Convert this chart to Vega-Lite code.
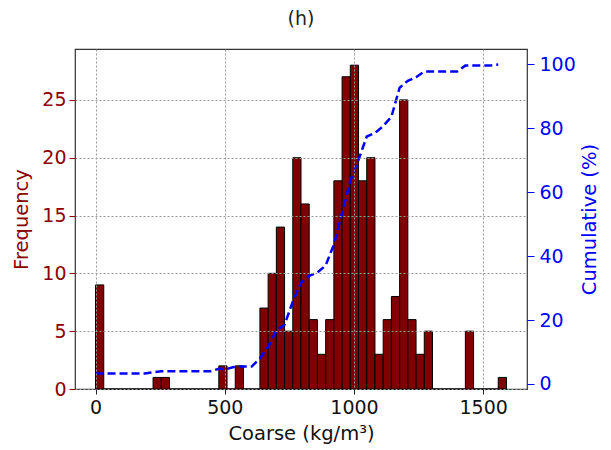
{
  "$schema": "https://vega.github.io/schema/vega-lite/v6.json",
  "width": 452,
  "height": 340,
  "autosize": {"type": "none"},
  "padding": {"left": 75, "top": 49, "right": 84, "bottom": 61},
  "background": "white",
  "config": {"font": "DejaVu Sans", "view": {"stroke": "#333", "strokeWidth": 1.2}},
  "title": {"text": "(h)", "fontSize": 19, "fontWeight": "normal", "color": "#222", "offset": 20, "anchor": "middle", "font": "DejaVu Sans"},
  "data": {"values": [
    {"bin_start": 0, "bin_end": 31.8, "count": 9, "cum": 3.27},
    {"bin_start": 31.8, "bin_end": 63.6, "count": 0, "cum": 3.27},
    {"bin_start": 63.6, "bin_end": 95.4, "count": 0, "cum": 3.27},
    {"bin_start": 95.4, "bin_end": 127.2, "count": 0, "cum": 3.27},
    {"bin_start": 127.2, "bin_end": 159, "count": 0, "cum": 3.27},
    {"bin_start": 159, "bin_end": 190.8, "count": 0, "cum": 3.27},
    {"bin_start": 190.8, "bin_end": 222.6, "count": 0, "cum": 3.27},
    {"bin_start": 222.6, "bin_end": 254.4, "count": 1, "cum": 3.64},
    {"bin_start": 254.4, "bin_end": 286.2, "count": 1, "cum": 4.0},
    {"bin_start": 286.2, "bin_end": 318, "count": 0, "cum": 4.0},
    {"bin_start": 318, "bin_end": 349.8, "count": 0, "cum": 4.0},
    {"bin_start": 349.8, "bin_end": 381.6, "count": 0, "cum": 4.0},
    {"bin_start": 381.6, "bin_end": 413.4, "count": 0, "cum": 4.0},
    {"bin_start": 413.4, "bin_end": 445.2, "count": 0, "cum": 4.0},
    {"bin_start": 445.2, "bin_end": 477, "count": 0, "cum": 4.0},
    {"bin_start": 477, "bin_end": 508.8, "count": 2, "cum": 4.73},
    {"bin_start": 508.8, "bin_end": 540.6, "count": 0, "cum": 4.73},
    {"bin_start": 540.6, "bin_end": 572.4, "count": 2, "cum": 5.45},
    {"bin_start": 572.4, "bin_end": 604.2, "count": 0, "cum": 5.45},
    {"bin_start": 604.2, "bin_end": 636, "count": 0, "cum": 5.45},
    {"bin_start": 636, "bin_end": 667.8, "count": 7, "cum": 8.0},
    {"bin_start": 667.8, "bin_end": 699.6, "count": 10, "cum": 11.64},
    {"bin_start": 699.6, "bin_end": 731.4, "count": 14, "cum": 16.73},
    {"bin_start": 731.4, "bin_end": 763.2, "count": 5, "cum": 18.55},
    {"bin_start": 763.2, "bin_end": 795, "count": 20, "cum": 25.82},
    {"bin_start": 795, "bin_end": 826.8, "count": 16, "cum": 31.64},
    {"bin_start": 826.8, "bin_end": 858.6, "count": 6, "cum": 33.82},
    {"bin_start": 858.6, "bin_end": 890.4, "count": 3, "cum": 34.91},
    {"bin_start": 890.4, "bin_end": 922.2, "count": 6, "cum": 37.09},
    {"bin_start": 922.2, "bin_end": 954, "count": 18, "cum": 43.64},
    {"bin_start": 954, "bin_end": 985.8, "count": 27, "cum": 53.45},
    {"bin_start": 985.8, "bin_end": 1017.6, "count": 28, "cum": 63.64},
    {"bin_start": 1017.6, "bin_end": 1049.4, "count": 18, "cum": 70.18},
    {"bin_start": 1049.4, "bin_end": 1081.2, "count": 20, "cum": 77.45},
    {"bin_start": 1081.2, "bin_end": 1113, "count": 3, "cum": 78.55},
    {"bin_start": 1113, "bin_end": 1144.8, "count": 6, "cum": 80.73},
    {"bin_start": 1144.8, "bin_end": 1176.6, "count": 8, "cum": 83.64},
    {"bin_start": 1176.6, "bin_end": 1208.4, "count": 25, "cum": 92.73},
    {"bin_start": 1208.4, "bin_end": 1240.2, "count": 6, "cum": 94.91},
    {"bin_start": 1240.2, "bin_end": 1272, "count": 3, "cum": 96.0},
    {"bin_start": 1272, "bin_end": 1303.8, "count": 5, "cum": 97.82},
    {"bin_start": 1303.8, "bin_end": 1335.6, "count": 0, "cum": 97.82},
    {"bin_start": 1335.6, "bin_end": 1367.4, "count": 0, "cum": 97.82},
    {"bin_start": 1367.4, "bin_end": 1399.2, "count": 0, "cum": 97.82},
    {"bin_start": 1399.2, "bin_end": 1431, "count": 0, "cum": 97.82},
    {"bin_start": 1431, "bin_end": 1462.8, "count": 5, "cum": 99.64},
    {"bin_start": 1462.8, "bin_end": 1494.6, "count": 0, "cum": 99.64},
    {"bin_start": 1494.6, "bin_end": 1526.4, "count": 0, "cum": 99.64},
    {"bin_start": 1526.4, "bin_end": 1558.2, "count": 0, "cum": 99.64},
    {"bin_start": 1558.2, "bin_end": 1590, "count": 1, "cum": 100.0}
  ]},
  "layer": [
    {
      "mark": {"type": "bar", "color": "#800000", "stroke": "black", "strokeWidth": 1},
      "encoding": {
        "x": {
          "field": "bin_start", "type": "quantitative",
          "scale": {"domain": [-79.5, 1669.5], "nice": false, "zero": false},
          "axis": {
            "values": [0, 500, 1000, 1500], "format": "d", "title": "Coarse (kg/m³)",
            "domain": false, "grid": true, "gridDash": [2, 2], "gridColor": "#999", "gridWidth": 1,
            "tickColor": "#222", "tickSize": 5, "labelPadding": 4,
            "labelFontSize": 19, "labelColor": "#111", "labelFont": "DejaVu Sans",
            "titleFontSize": 19.5, "titleFontWeight": "normal", "titleColor": "#111", "titleFont": "DejaVu Sans", "titlePadding": 7,
            "zindex": 1
          }
        },
        "x2": {"field": "bin_end"},
        "y": {
          "field": "count", "type": "quantitative",
          "scale": {"domain": [0, 29.4], "nice": false},
          "axis": {
            "values": [0, 5, 10, 15, 20, 25], "title": "Frequency",
            "domain": false, "grid": true, "gridDash": [2, 2], "gridColor": "#999", "gridWidth": 1,
            "tickColor": "#8B0000", "tickSize": 6, "labelPadding": 3,
            "labelFontSize": 19, "labelColor": "#8B0000", "labelFont": "DejaVu Sans",
            "titleFontSize": 19.5, "titleFontWeight": "normal", "titleColor": "#8B0000", "titleFont": "DejaVu Sans", "titlePadding": 10,
            "zindex": 1
          }
        },
        "y2": {"datum": 0}
      }
    },
    {
      "mark": {"type": "line", "color": "#0000FF", "strokeDash": [8, 4], "strokeWidth": 2.5},
      "encoding": {
        "x": {"field": "bin_start", "type": "quantitative"},
        "y": {
          "field": "cum", "type": "quantitative",
          "scale": {"domain": [-1.57, 104.84], "nice": false, "zero": false},
          "axis": {
            "orient": "right", "values": [0, 20, 40, 60, 80, 100], "title": "Cumulative (%)",
            "domain": false, "grid": false,
            "tickColor": "#0000FF", "tickSize": 7, "labelPadding": 5,
            "labelFontSize": 19, "labelColor": "#0000FF", "labelFont": "DejaVu Sans",
            "titleFontSize": 19.5, "titleFontWeight": "normal", "titleColor": "#0000FF", "titleFont": "DejaVu Sans", "titlePadding": 24,
            "titleAngle": 270
          }
        }
      }
    }
  ],
  "resolve": {"scale": {"y": "independent"}}
}
